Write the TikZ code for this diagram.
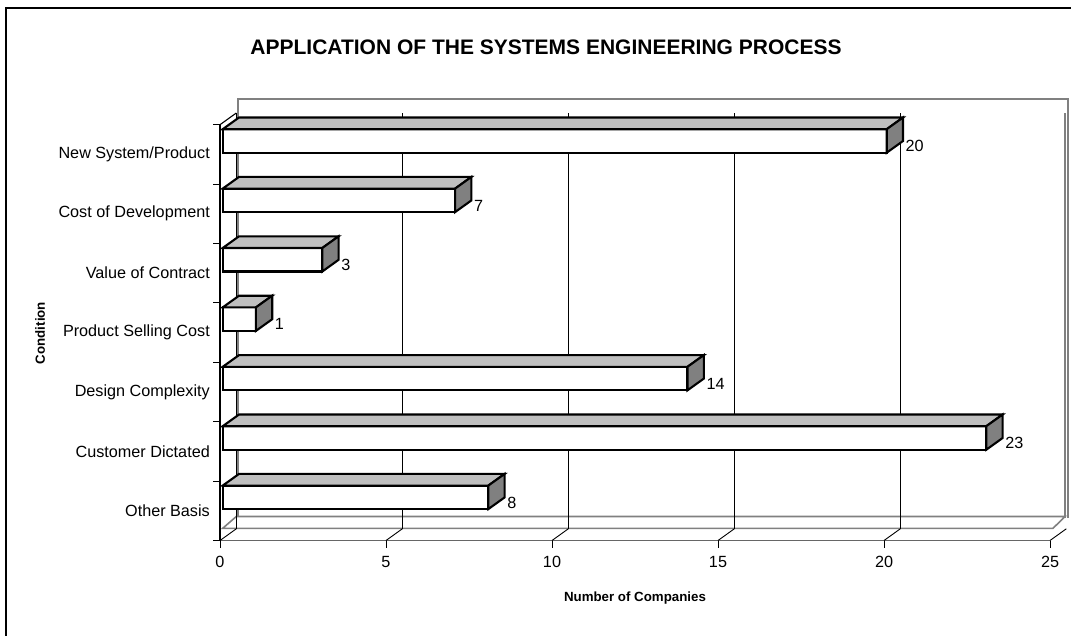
\documentclass[tikz,border=0pt]{standalone}
\usepackage{fontspec}
\setmainfont{Liberation Sans}
\begin{document}
\begin{tikzpicture}[x=1pt,y=-1pt,
  barline/.style={draw=black, line width=2.1pt, line join=miter},
  wallline/.style={draw=black!50, line width=1.6pt},
  axisline/.style={draw=black, line width=1.1pt},
  gridline/.style={draw=black, line width=0.9pt},
  lblfont/.style={font=\fontsize{16.2}{19}\selectfont},
  titlefont/.style={font=\bfseries\fontsize{21}{24}\selectfont},
  axtitle/.style={font=\bfseries\fontsize{13.3}{16}\selectfont}]
\useasboundingbox (0,0) rectangle (1071,635);
% outer chart frame (right and bottom edges lie outside the page)
\draw[black, line width=1.6pt] (6,660) -- (6,8) -- (1090,8);
% title
\node[titlefont] (title) at (546,47.5) {APPLICATION OF THE SYSTEMS ENGINEERING PROCESS};
% back wall and floor
\draw[wallline] (238,517) -- (238,99) -- (1068,99) -- (1068,518);
\draw[wallline] (1065,113) -- (1065,518);
\draw[wallline] (236.3,516.5) -- (1065,516.5) -- (1053,528.3) -- (222.7,528.3) -- cycle;
% value axis line
\draw[black!60, line width=1.3pt] (213,540.5) -- (1050,540.5);
% gridlines, depth edges, ticks and tick labels of the value axis
\foreach \k in {0,...,5} {
  \pgfmathsetmacro\xa{220+166*\k}
  \pgfmathtruncatemacro\lab{5*\k}
  \draw[gridline] (\xa,540.5) -- (\xa+16.3,528.8);
  \draw[gridline] (\xa,540.5) -- (\xa,548);
  \node[lblfont] (xt\k) at (\xa,562) {\lab};
}
\foreach \k in {0,...,4} {
  \pgfmathsetmacro\xa{220+166*\k+16.3}
  \draw[gridline] (\xa,528.8) -- (\xa,113);
}
% category axis
\draw[axisline] (220,124.7) -- (220,540.5);
\draw[axisline] (220,124.7) -- (236.3,113);
\foreach \i in {0,...,7} {
  \pgfmathsetmacro\t{124.7+59.4*\i}
  \draw[axisline] (213,\t) -- (220,\t);
}
% bars
\foreach \v [count=\i from 0] in {20,7,3,1,14,23,8} {
  \pgfmathsetmacro\t{124.7+59.4*\i}
  \pgfmathsetmacro\yt{\t+4.5}
  \pgfmathsetmacro\yb{\t+28}
  \pgfmathsetmacro\xr{222.7+33.2*\v}
  \draw[barline, fill=white] (222.7,\yt) rectangle (\xr,\yb);
  \draw[barline, fill=black!25] (222.7,\yt) -- (239,\yt-11.7) -- (\xr+16.3,\yt-11.7) -- (\xr,\yt) -- cycle;
  \draw[barline, fill=black!50] (\xr,\yt) -- (\xr+16.3,\yt-11.7) -- (\xr+16.3,\yb-11.7) -- (\xr,\yb) -- cycle;
  \node[lblfont, anchor=west, inner sep=0pt] (val\i) at (\xr+18.8,\t+21.5) {\v};
}
% category labels
\foreach \name [count=\i from 0] in {{New System/Product},{Cost of Development},{Value of Contract},{Product Selling Cost},{Design Complexity},{Customer Dictated},{Other Basis}} {
  \pgfmathsetmacro\c{124.7+59.4*\i+29.7}
  \node[lblfont, anchor=east, inner sep=0pt] (cat\i) at (210,\c) {\name};
}
% axis titles
\node[axtitle, rotate=90] (ytitle) at (40,333) {Condition};
\node[axtitle] (xtitle) at (635,598) {Number of Companies};
\end{tikzpicture}
\end{document}
